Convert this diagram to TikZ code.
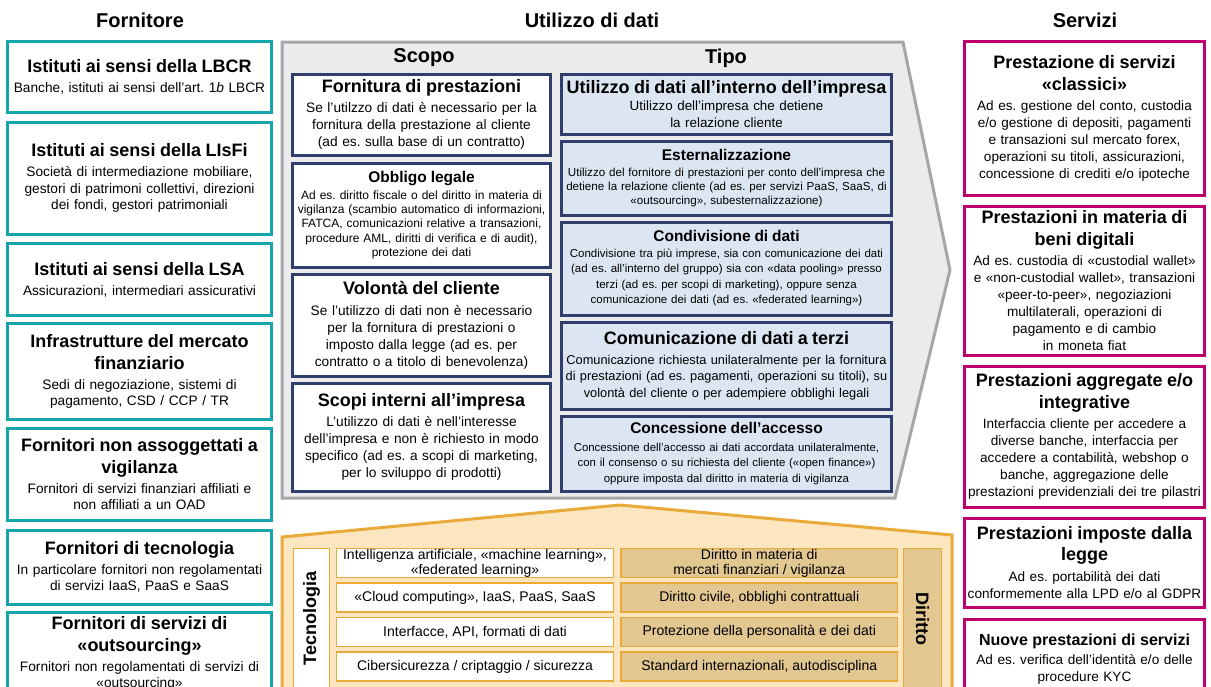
\documentclass[tikz,border=0pt]{standalone}
\usepackage{fontspec}
\setmainfont{Liberation Sans}
\usetikzlibrary{positioning}
\definecolor{fteal}{RGB}{20,166,170}
\definecolor{smag}{RGB}{190,0,110}
\definecolor{unavy}{RGB}{47,62,108}
\definecolor{ublue}{RGB}{220,230,242}
\definecolor{ugray}{RGB}{235,235,235}
\definecolor{ugrayd}{RGB}{166,166,166}
\definecolor{borange}{RGB}{233,170,58}
\definecolor{blight}{RGB}{251,230,192}
\definecolor{btan}{RGB}{226,199,145}
\newcommand{\fsz}[2]{\fontsize{#1}{#2}\selectfont}
\newcommand{\hd}[1]{{\fsz{18}{21.5}\bfseries #1\par}\vspace{3.5pt}}
\newcommand{\hs}[1]{{\fsz{15.5}{18.5}\bfseries #1\par}\vspace{2pt}}
\frenchspacing

\begin{document}
\begin{tikzpicture}[x=1pt,y=-1pt,
	forn/.style={draw=fteal,line width=3pt,fill=white,text width=262pt,inner sep=1pt,outer sep=0pt,align=center,font={\fsz{13.7}{16.5}\frenchspacing}},
	scopo/.style={draw=unavy,line width=3pt,fill=white,text width=256pt,inner sep=1pt,outer sep=0pt,align=center,font={\fsz{13.7}{17}\frenchspacing}},
	tipo/.style={scopo,fill=ublue,text width=328pt},
	serv/.style={draw=smag,line width=3pt,fill=white,text width=238pt,inner sep=1pt,outer sep=0pt,align=center,font={\fsz{13.6}{17}\frenchspacing}},
	tec/.style={draw=borange,line width=1.5pt,fill=white,minimum width=277pt,minimum height=29pt,inner sep=0pt,outer sep=0pt,align=center,font={\fsz{14}{14.8}}},
	dir/.style={tec,fill=btan,minimum width=276.5pt},
	head/.style={font={\fsz{20}{24}\bfseries}}]

	\useasboundingbox (0,0) rectangle (1211,686);
	\clip (0,0) rectangle (1211,686);

	\node[head] (H1) at (140,20) {Fornitore};
	\node[head] (H2) at (592,20) {Utilizzo di dati};
	\node[head] (H3) at (1085,20) {Servizi};

	\node[forn,anchor=north,minimum height=71pt] (F1) at (139.5,41.5) {\hd{Istituti ai sensi della LBCR}Banche, istituti ai sensi dell'art. 1\textit{b} LBCR};
	\node[forn,below=10pt of F1,minimum height=111.5pt] (F2) {\hd{Istituti ai sensi della LIsFi}Società di intermediazione mobiliare,\\gestori di patrimoni collettivi, direzioni\\dei fondi, gestori patrimoniali};
	\node[forn,below=9.5pt of F2,minimum height=72pt] (F3) {\hd{Istituti ai sensi della LSA}Assicurazioni, intermediari assicurativi};
	\node[forn,below=8pt of F3,minimum height=96pt] (F4) {\hd{Infrastrutture del mercato\\finanziario}Sedi di negoziazione, sistemi di\\pagamento, CSD / CCP / TR};
	\node[forn,below=9pt of F4,minimum height=92pt] (F5) {\hd{Fornitori non assoggettati a\\vigilanza}Fornitori di servizi finanziari affiliati e\\non affiliati a un OAD};
	\node[forn,below=9.5pt of F5,minimum height=74pt] (F6) {\hd{Fornitori di tecnologia}In particolare fornitori non regolamentati\\di servizi IaaS, PaaS e SaaS};
	\node[forn,below=8.5pt of F6,minimum height=82pt] (F7) {\hd{Fornitori di servizi di\\«outsourcing»}Fornitori non regolamentati di servizi di\\«outsourcing»};

	\draw[draw=ugrayd,fill=ugray,line width=3pt] (282,42) -- (903,42) -- (950,270) -- (895,498) -- (282,498) -- cycle;
	\node[head] (S0) at (424,58) {Scopo};
	\node[head] (T0) at (726,58) {Tipo};

	\node[scopo,anchor=north,minimum height=81pt] (S1) at (421.5,74) {\hd{Fornitura di prestazioni}Se l’utilzzo di dati è necessario per la\\fornitura della prestazione al cliente\\(ad es. sulla base di un contratto)};
	\node[scopo,below=8pt of S1,minimum height=104.5pt,font={\fsz{12}{14.3}\frenchspacing}] (S2) {\hs{Obbligo legale}Ad es. diritto fiscale o del diritto in materia di\\vigilanza (scambio automatico di informazioni,\\FATCA, comunicazioni relative a transazioni,\\procedure AML, diritti di verifica e di audit),\\protezione dei dati};
	\node[scopo,below=7pt of S2,minimum height=101.5pt] (S3) {\hd{Volontà del cliente}Se l’utilizzo di dati non è necessario\\per la fornitura di prestazioni o\\imposto dalla legge (ad es. per\\contratto o a titolo di benevolenza)};
	\node[scopo,below=7pt of S3,minimum height=108pt] (S4) {\hd{Scopi interni all’impresa}L’utilizzo di dati è nell’interesse\\dell’impresa e non è richiesto in modo\\specifico (ad es. a scopi di marketing,\\per lo sviluppo di prodotti)};

	\node[tipo,anchor=north,minimum height=60pt,font={\fsz{13.4}{17}}] (T1) at (726.5,74) {{\fsz{18}{21.5}\bfseries Utilizzo di dati all’interno dell’impresa\par}Utilizzo dell’impresa che detiene\\la relazione cliente};
	\node[tipo,below=7pt of T1,minimum height=74pt,font={\fsz{11.6}{14}\frenchspacing}] (T2) {\hs{Esternalizzazione}Utilizzo del fornitore di prestazioni per conto dell’impresa che\\detiene la relazione cliente (ad es. per servizi PaaS, SaaS, di\\«outsourcing», subesternalizzazione)};
	\node[tipo,below=7pt of T2,minimum height=93pt,font={\fsz{11.5}{15.5}\frenchspacing}] (T3) {{\fsz{15.5}{18.5}\bfseries Condivisione di dati\par}Condivisione tra più imprese, sia con comunicazione dei dati\\(ad es. all’interno del gruppo) sia con «data pooling» presso\\terzi (ad es. per scopi di marketing), oppure senza\\comunicazione dei dati (ad es. «federated learning»)};
	\node[tipo,below=7pt of T3,minimum height=87pt,font={\fsz{12.8}{16.5}\frenchspacing}] (T4) {\hd{Comunicazione di dati a terzi}Comunicazione richiesta unilateralmente per la fornitura\\di prestazioni (ad es. pagamenti, operazioni su titoli), su\\volontà del cliente o per adempiere obblighi legali};
	\node[tipo,below=7pt of T4,minimum height=75pt,font={\fsz{11.4}{15.5}}] (T5) {\hs{Concessione dell’accesso}Concessione dell’accesso ai dati accordata unilateralmente,\\con il consenso o su richiesta del cliente («open finance»)\\oppure imposta dal diritto in materia di vigilanza};

	\node[serv,anchor=north,minimum height=154pt] (V1) at (1084.5,41.5) {\hd{Prestazione di servizi\\«classici»}Ad es. gestione del conto, custodia\\e/o gestione di depositi, pagamenti\\e transazioni sul mercato forex,\\operazioni su titoli, assicurazioni,\\concessione di crediti e/o ipoteche};
	\node[serv,below=11pt of V1,minimum height=149pt] (V2) {\hd{Prestazioni in materia di\\beni digitali}Ad es. custodia di «custodial wallet»\\e «non-custodial wallet», transazioni\\«peer-to-peer», negoziazioni\\multilaterali, operazioni di\\pagamento e di cambio\\in moneta fiat};
	\node[serv,below=10.5pt of V2,minimum height=141pt] (V3) {\hd{Prestazioni aggregate e/o\\integrative}Interfaccia cliente per accedere a\\diverse banche, interfaccia per\\accedere a contabilità, webshop o\\banche, aggregazione delle\\prestazioni previdenziali dei tre pilastri};
	\node[serv,below=11pt of V3,minimum height=89pt] (V4) {\hd{Prestazioni imposte dalla\\legge}Ad es. portabilità dei dati\\conformemente alla LPD e/o al GDPR};
	\node[serv,below=12pt of V4,minimum height=80pt] (V5) {{\fsz{16}{19}\bfseries Nuove prestazioni di servizi\par}\vspace{2pt}Ad es. verifica dell’identità e/o delle\\procedure KYC};

	\draw[draw=borange,fill=blight,line width=3pt] (282,537) -- (620,505) -- (952,535) -- (952,700) -- (282,700) -- cycle;

	\node[tec,rotate=90,minimum width=140pt,minimum height=36pt,font={\fsz{18}{20}\bfseries}] (TC) at (311.5,618.5) {Tecnologia};
	\node[tec,anchor=north west] (R1) at (336.5,548.5) {Intelligenza artificiale, «machine learning»,\\«federated learning»};
	\node[tec,below=5.5pt of R1] (R2) {«Cloud computing», IaaS, PaaS, SaaS};
	\node[tec,below=5.5pt of R2] (R3) {Interfacce, API, formati di dati};
	\node[tec,below=5.5pt of R3] (R4) {Cibersicurezza / criptaggio / sicurezza};

	\node[dir,anchor=north west] (D1) at (621,548.5) {Diritto in materia di\\mercati finanziari / vigilanza};
	\node[dir,below=5.5pt of D1] (D2) {Diritto civile, obblighi contrattuali};
	\node[dir,below=5.5pt of D2] (D3) {Protezione della personalità e dei dati};
	\node[dir,below=5.5pt of D3] (D4) {Standard internazionali, autodisciplina};
	\node[dir,rotate=-90,minimum width=140pt,minimum height=38pt,font={\fsz{18}{20}\bfseries}] (DR) at (922.5,618.5) {Diritto};
\end{tikzpicture}
\end{document}
